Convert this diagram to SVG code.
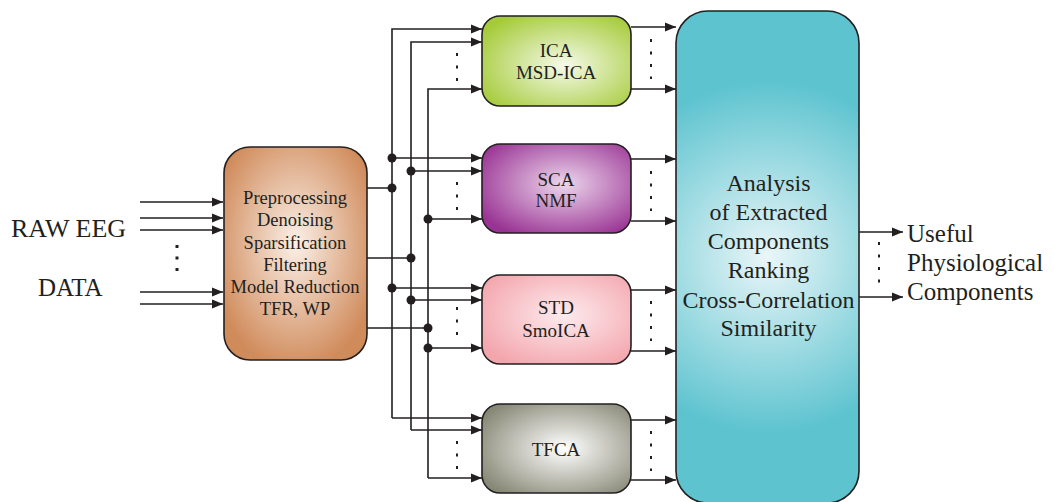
<svg xmlns="http://www.w3.org/2000/svg" width="1054" height="502" viewBox="0 0 1054 502">
  <style>
    .box { stroke: #231f20; stroke-width: 1.6; }
    .wire { fill: none; stroke: #231f20; stroke-width: 1.6; }
    .arr { fill: none; stroke: #231f20; stroke-width: 1.6; marker-end: url(#head); }
    .dots { fill: none; stroke: #231f20; stroke-width: 2; stroke-dasharray: 3 9.5; }
    .node { fill: #231f20; }
    .lbl { fill: #231f20; text-anchor: middle; }
    .s18 { font-size: 18.5px; }
    .s19 { font-size: 19px; }
    .s24 { font-size: 24px; }
    .side { fill: #231f20; font-size: 25px; }
  </style>
  <defs>
    <marker id="head" markerUnits="userSpaceOnUse" markerWidth="12" markerHeight="10" refX="11" refY="5" orient="auto">
      <path d="M0,0.5 L11,5 L0,9.5 z" fill="#231f20"/>
    </marker>
    <radialGradient id="gPre" cx="50%" cy="45%" r="60%">
      <stop offset="0" stop-color="#fbf0e8"/>
      <stop offset="1" stop-color="#d08b5b"/>
    </radialGradient>
    <radialGradient id="gIca" cx="55%" cy="55%" r="65%">
      <stop offset="0" stop-color="#f6faea"/>
      <stop offset="1" stop-color="#a5cb3a"/>
    </radialGradient>
    <radialGradient id="gSca" cx="55%" cy="45%" r="65%">
      <stop offset="0" stop-color="#ecd6ec"/>
      <stop offset="1" stop-color="#9a3494"/>
    </radialGradient>
    <radialGradient id="gStd" cx="55%" cy="45%" r="65%">
      <stop offset="0" stop-color="#fdebee"/>
      <stop offset="1" stop-color="#f3a5ac"/>
    </radialGradient>
    <radialGradient id="gTf" cx="55%" cy="50%" r="65%">
      <stop offset="0" stop-color="#ffffff"/>
      <stop offset="1" stop-color="#878775"/>
    </radialGradient>
    <radialGradient id="gAn" cx="50%" cy="50%" r="60%" gradientTransform="translate(0.5 0.5) scale(1.6 0.6) translate(-0.5 -0.5)">
      <stop offset="0" stop-color="#eaf6f8"/>
      <stop offset="1" stop-color="#5cc3cf"/>
    </radialGradient>
  </defs>

  <g font-family="'Liberation Serif', 'Times New Roman', serif">

  <!-- raw input channels -->
  <g id="raw-input">
    <text class="side" x="11" y="237" textLength="115" lengthAdjust="spacingAndGlyphs">RAW EEG</text>
    <text class="side" x="38" y="296">DATA</text>
    <line class="arr" x1="140" y1="202" x2="223" y2="202"/>
    <line class="arr" x1="140" y1="218" x2="223" y2="218"/>
    <line class="arr" x1="140" y1="230" x2="223" y2="230"/>
    <line class="arr" x1="140" y1="292" x2="223" y2="292"/>
    <line class="arr" x1="140" y1="304" x2="223" y2="304"/>
    <path d="M177,245 V275" fill="none" stroke="#231f20" stroke-width="3" stroke-dasharray="3 8.5"/>
  </g>

  <!-- connectors -->
  <g id="connectors">
    <!-- preprocessing outputs to buses -->
    <path class="wire" d="M367,188 H392 M367,258 H411 M367,328 H428"/>
    <!-- bus 1 -->
    <path class="arr" d="M392,418 V29 H482"/>
    <line class="arr" x1="392" y1="158" x2="482" y2="158"/>
    <line class="arr" x1="392" y1="288" x2="482" y2="288"/>
    <line class="arr" x1="392" y1="418" x2="482" y2="418"/>
    <!-- bus 2 -->
    <path class="arr" d="M411,430 V42 H482"/>
    <line class="arr" x1="411" y1="171" x2="482" y2="171"/>
    <line class="arr" x1="411" y1="300" x2="482" y2="300"/>
    <line class="arr" x1="411" y1="430" x2="482" y2="430"/>
    <!-- bus 3 -->
    <path class="arr" d="M428,478 V89 H482"/>
    <line class="arr" x1="428" y1="219" x2="482" y2="219"/>
    <line class="arr" x1="428" y1="348" x2="482" y2="348"/>
    <line class="arr" x1="428" y1="478" x2="482" y2="478"/>
    <!-- junctions -->
    <circle class="node" cx="392" cy="158" r="4.5"/>
    <circle class="node" cx="392" cy="188" r="4.5"/>
    <circle class="node" cx="392" cy="288" r="4.5"/>
    <circle class="node" cx="411" cy="171" r="4.5"/>
    <circle class="node" cx="411" cy="258" r="4.5"/>
    <circle class="node" cx="411" cy="300" r="4.5"/>
    <circle class="node" cx="428" cy="219" r="4.5"/>
    <circle class="node" cx="428" cy="328" r="4.5"/>
    <circle class="node" cx="428" cy="348" r="4.5"/>
    <!-- elided input channels -->
    <path class="dots" d="M457,53 V82 M457,182 V210 M457,307 V338 M457,441 V469"/>
    <!-- method outputs to analysis -->
    <line class="arr" x1="631" y1="27" x2="676" y2="27"/>
    <line class="arr" x1="631" y1="89" x2="676" y2="89"/>
    <line class="arr" x1="631" y1="159" x2="676" y2="159"/>
    <line class="arr" x1="631" y1="221" x2="676" y2="221"/>
    <line class="arr" x1="631" y1="290" x2="676" y2="290"/>
    <line class="arr" x1="631" y1="351" x2="676" y2="351"/>
    <line class="arr" x1="631" y1="420" x2="676" y2="420"/>
    <line class="arr" x1="631" y1="480" x2="676" y2="480"/>
    <path class="dots" d="M651,39 V79 M651,171 V211 M651,301 V341 M651,431 V471"/>
    <!-- final outputs -->
    <line class="arr" x1="859" y1="232" x2="903" y2="232"/>
    <line class="arr" x1="859" y1="297" x2="903" y2="297"/>
    <path class="dots" d="M879,242 V285"/>
  </g>

  <g id="preprocessing">
    <rect class="box" x="224" y="147" width="143" height="213" rx="26" fill="url(#gPre)"/>
    <text class="lbl s18" x="295" y="204">Preprocessing</text>
    <text class="lbl s18" x="295" y="226">Denoising</text>
    <text class="lbl s18" x="295" y="248.5">Sparsification</text>
    <text class="lbl s18" x="295" y="271">Filtering</text>
    <text class="lbl s18" x="295" y="293">Model Reduction</text>
    <text class="lbl s18" x="295" y="315">TFR, WP</text>
  </g>

  <g id="ica">
    <rect class="box" x="482" y="16" width="149" height="90" rx="18" fill="url(#gIca)"/>
    <text class="lbl s19" x="556" y="57">ICA</text>
    <text class="lbl s19" x="556" y="79">MSD-ICA</text>
  </g>

  <g id="sca">
    <rect class="box" x="482" y="144" width="149" height="89" rx="18" fill="url(#gSca)"/>
    <text class="lbl s19" x="556" y="186">SCA</text>
    <text class="lbl s19" x="556" y="207">NMF</text>
  </g>

  <g id="std">
    <rect class="box" x="482" y="275" width="149" height="89" rx="18" fill="url(#gStd)"/>
    <text class="lbl s19" x="556" y="314">STD</text>
    <text class="lbl s19" x="556" y="337">SmoICA</text>
  </g>

  <g id="tfca">
    <rect class="box" x="482" y="404" width="149" height="89" rx="18" fill="url(#gTf)"/>
    <text class="lbl s19" x="556" y="456">TFCA</text>
  </g>

  <g id="analysis">
    <rect class="box" x="676" y="11" width="183" height="492" rx="32" fill="url(#gAn)"/>
    <text class="lbl s24" x="768.5" y="191">Analysis</text>
    <text class="lbl s24" x="768.5" y="220">of Extracted</text>
    <text class="lbl s24" x="768.5" y="249">Components</text>
    <text class="lbl s24" x="768.5" y="278">Ranking</text>
    <text class="lbl s24" x="768.5" y="308">Cross-Correlation</text>
    <text class="lbl s24" x="768.5" y="336">Similarity</text>
  </g>

  <g id="result">
    <text class="side" x="907" y="242" font-size="26">Useful</text>
    <text class="side" x="907" y="271" font-size="26">Physiological</text>
    <text class="side" x="907" y="300" font-size="26">Components</text>
  </g>

  </g>
</svg>
